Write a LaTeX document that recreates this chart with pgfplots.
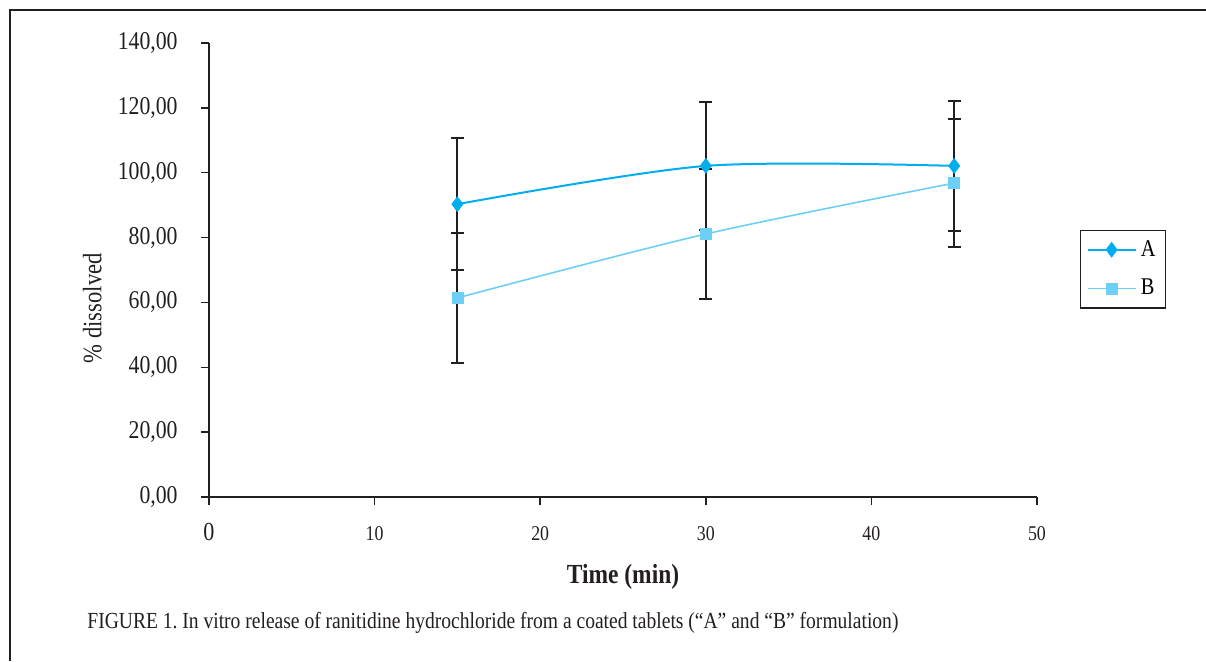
\documentclass[border=0pt]{standalone}
\usepackage{fontspec}
\setmainfont{Liberation Serif}[FakeStretch=0.85]
\usepackage{pgfplots}
\pgfplotsset{compat=1.18}
\frenchspacing

\definecolor{serA}{HTML}{00AEEF}
\definecolor{serB}{HTML}{6DCFF6}
\definecolor{ink}{HTML}{231F20}

\begin{document}
\begin{tikzpicture}
\useasboundingbox (0,0) rectangle (603pt,330.5pt);
% frame of the figure
\draw[ink, line width=0.75pt] (5pt,0) -- (5pt,325.5pt) -- (603pt,325.5pt);

\begin{axis}[
    at={(104.5pt,82pt)}, anchor=south west,
    scale only axis,
    width=414pt, height=227pt,
    xmin=0, xmax=50, ymin=0, ymax=140,
    axis lines=left,
    axis line style={-, ink, line width=0.75pt},
    tick style={ink, line width=0.75pt},
    tick align=outside,
    major tick length=4pt,
    xtick={0,10,20,30,40,50},
    xticklabels={{\fontsize{13}{15}\selectfont 0},10,20,30,40,50},
    ytick={0,20,...,140},
    /pgf/number format/assume math mode=true,
    yticklabel={\pgfmathprintnumber[fixed, fixed zerofill, precision=2, use comma, 1000 sep={}]{\tick}},
    yticklabel style={font=\fontsize{12.8}{14}\selectfont, anchor=east, inner sep=0pt, xshift=-11.5pt, text=ink},
    xticklabel style={font=\fontsize{10.5}{12}\selectfont, anchor=base, inner sep=0pt, yshift=-17.5pt, text=ink},
    xlabel={\textbf{Time (min)}},
    xlabel style={at={(axis description cs:0.5,-0.176)}, anchor=center, font=\fontsize{13.8}{16}\selectfont, text=ink},
    ylabel={\% dissolved},
    ylabel style={at={(axis description cs:-0.141,0.416)}, anchor=center, font=\fontsize{13.3}{15}\selectfont, text=ink},
    legend style={at={(1.052,0.502)}, anchor=west, draw=ink, line width=0.7pt,
        font=\fontsize{12}{13}\selectfont, row sep=6pt, inner sep=3pt},
    legend cell align=left,
    legend image code/.code={\draw[mark repeat=2, mark phase=2] plot coordinates {(0cm,0cm) (0.42cm,0cm) (0.845cm,0cm)};},
    clip=false,
]
% A
\addplot[serA, line width=1pt, smooth, tension=0.5, mark=diamond*, mark size=3.8pt,
    mark options={fill=serA, draw=serA, line width=0.2pt},
    error bars/.cd, y dir=both, y explicit,
    error bar style={ink, line width=1pt},
    error mark options={rotate=90, ink, mark size=3.25pt, line width=1pt}]
    table[x=t, y=v, y error=e] {
t  v      e
15 90.3   20.4
30 102.1  19.7
45 102.1  20.0
};
\addlegendentry{A}
% B
\addplot[serB, line width=0.8pt, smooth, tension=0.5, mark=square*, mark size=2.75pt,
    mark options={fill=serB, draw=serB, line width=0.2pt},
    error bars/.cd, y dir=both, y explicit,
    error bar style={ink, line width=1pt},
    error mark options={rotate=90, ink, mark size=3.25pt, line width=1pt}]
    table[x=t, y=v, y error=e] {
t  v     e
15 61.4  20.0
30 81.1  20.0
45 96.8  19.7
};
\addlegendentry{B}
\end{axis}

\node[anchor=west, inner sep=0pt, text=ink, font=\fontsize{11.5}{13}\selectfont] at (43.5pt,19pt)
    {FIGURE 1. In vitro release of ranitidine hydrochloride from a coated tablets (“A” and “B” formulation)};
\end{tikzpicture}
\end{document}
